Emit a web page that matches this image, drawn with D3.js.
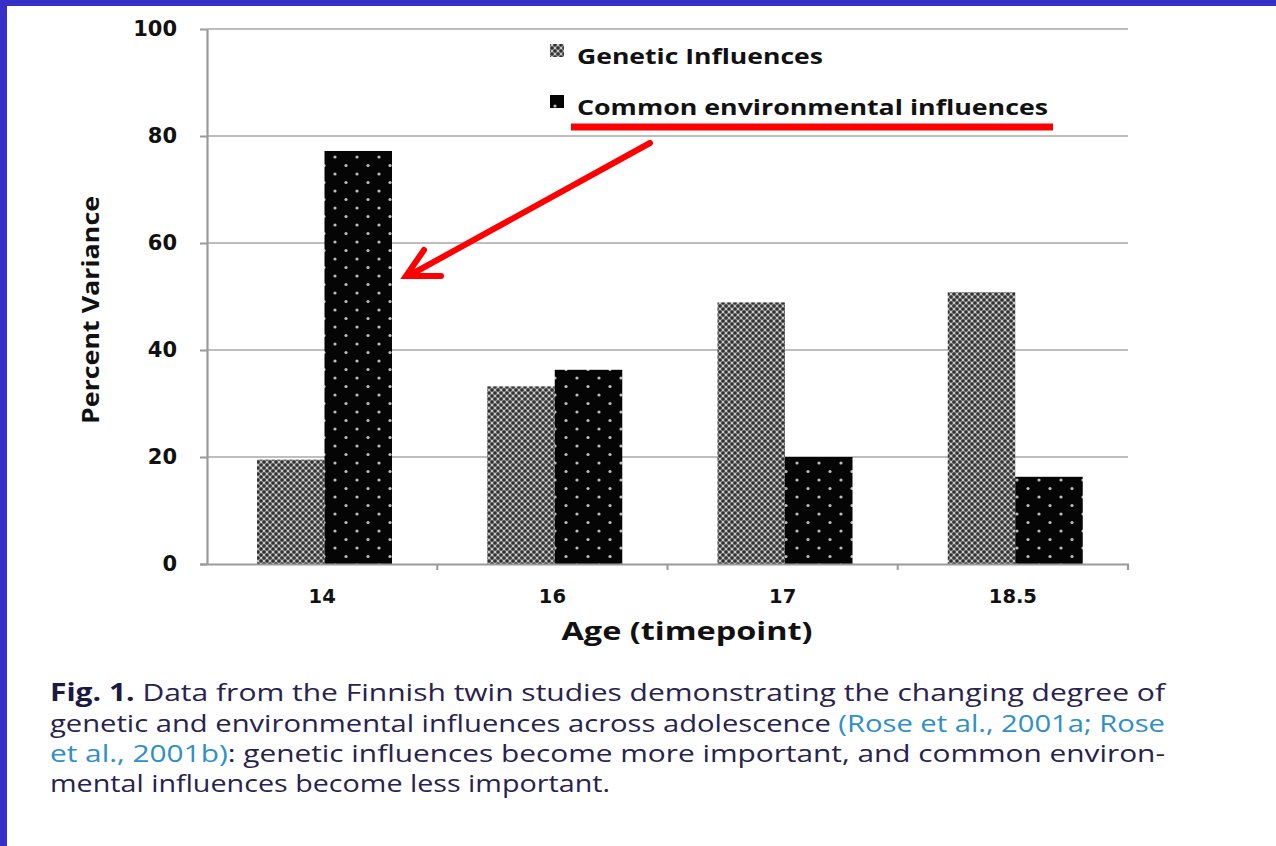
<!DOCTYPE html>
<html><head><meta charset="utf-8">
<script src="https://cdn.jsdelivr.net/npm/d3@7"></script>
<style>html,body{margin:0;padding:0;background:#fff;}svg{display:block;}</style>
</head><body>
<script>
const categories = ["14", "16", "17", "18.5"];
const seriesNames = ["Genetic Influences", "Common environmental influences"];
const genetic = [19.5, 33.2, 48.9, 50.8];
const common = [77.2, 36.3, 20.0, 16.3];
const yTicks = [0, 20, 40, 60, 80, 100];
const captionLines = [
  [["Fig. 1.", "b"], [" Data from the Finnish twin studies demonstrating the changing degree of", "n"]],
  [["genetic and environmental influences across adolescence ", "n"], ["(Rose et al., 2001a; Rose", "c"]],
  [["et al., 2001b)", "c"], [": genetic influences become more important, and common environ-", "n"]],
  [["mental influences become less important.", "n"]]
];

const W = 1276, H = 846;
const svg = d3.select("body").append("svg").attr("width", W).attr("height", H);
const defs = svg.append("defs");

// patterns
const pg = defs.append("pattern").attr("id", "genPat").attr("patternUnits", "userSpaceOnUse")
  .attr("width", 6).attr("height", 6);
pg.append("rect").attr("width", 6).attr("height", 6).attr("fill", "#a0a0a0");
[[0,0],[6,0],[0,6],[6,6],[3,3]].forEach(p => pg.append("circle").attr("cx", p[0]).attr("cy", p[1]).attr("r", 1.8).attr("fill", "#333"));
[[3,0],[0,3],[6,3],[3,6]].forEach(p => pg.append("circle").attr("cx", p[0]).attr("cy", p[1]).attr("r", 1.0).attr("fill", "#d4d4d4"));

const pc = defs.append("pattern").attr("id", "comPat").attr("patternUnits", "userSpaceOnUse")
  .attr("width", 22).attr("height", 17);
pc.append("rect").attr("width", 22).attr("height", 17).attr("fill", "#050505");
[[5,4],[16,12.5]].forEach(p => pc.append("circle").attr("cx", p[0]).attr("cy", p[1]).attr("r", 1.6).attr("fill", "#bdbdbd"));

// blue frame
svg.append("rect").attr("x", 0).attr("y", 0).attr("width", W).attr("height", 6).attr("fill", "#3530c6");
svg.append("rect").attr("x", 0).attr("y", 0).attr("width", 7).attr("height", H).attr("fill", "#3530c6");

const x0 = d3.scaleBand().domain(categories).range([207, 1128]).paddingInner(0).paddingOuter(0);
const x1 = d3.scaleBand().domain(seriesNames).range([50, 185]).paddingInner(0);
const y = d3.scaleLinear().domain([0, 100]).range([564, 29]);

// gridlines
svg.append("g").selectAll("line").data(yTicks.filter(d => d > 0)).join("line")
  .attr("x1", 207).attr("x2", 1128).attr("y1", d => y(d)).attr("y2", d => y(d))
  .attr("stroke", "#bdbdbd").attr("stroke-width", 2.2);

// bars
const vals = [genetic, common];
const fills = ["url(#genPat)", "url(#comPat)"];
seriesNames.forEach((s, si) => {
  svg.append("g").selectAll("rect").data(categories).join("rect")
    .attr("x", c => x0(c) + x1(s))
    .attr("width", x1.bandwidth())
    .attr("y", (c, i) => y(vals[si][i]))
    .attr("height", (c, i) => y(0) - y(vals[si][i]))
    .attr("fill", fills[si]);
});

// y axis
const yAxis = svg.append("g").attr("transform", "translate(207,0)")
  .call(d3.axisLeft(y).tickValues(yTicks).tickSize(7).tickSizeOuter(0).tickPadding(23));
yAxis.select(".domain").attr("stroke", "#9a9a9a").attr("stroke-width", 2.2);
yAxis.selectAll(".tick line").attr("stroke", "#9a9a9a").attr("stroke-width", 2);
yAxis.selectAll(".tick text").attr("font-family", "DejaVu Sans, sans-serif").attr("font-weight", 700)
  .attr("font-size", 21).attr("fill", "#111");

// x axis
const xAxis = svg.append("g").attr("transform", "translate(0,564)")
  .call(d3.axisBottom(x0).tickSize(0).tickPadding(25));
xAxis.select(".domain").attr("stroke", "#9a9a9a").attr("stroke-width", 2.2)
  .attr("d", "M200,0.5H1128V6");
xAxis.selectAll(".tick text").attr("font-family", "DejaVu Sans, sans-serif").attr("font-weight", 700)
  .attr("font-size", 19.5).attr("fill", "#111");
svg.append("g").selectAll("line").data(categories.slice(1)).join("line")
  .attr("x1", c => x0(c)).attr("x2", c => x0(c)).attr("y1", 564).attr("y2", 570)
  .attr("stroke", "#9a9a9a").attr("stroke-width", 2);

// axis titles
svg.append("text").attr("transform", "translate(99,310) rotate(-90)").attr("text-anchor", "middle")
  .attr("font-family", "Open Sans, sans-serif").attr("font-weight", 700).attr("font-size", 23)
  .attr("fill", "#111").attr("textLength", 228).attr("lengthAdjust", "spacingAndGlyphs").text("Percent Variance");
svg.append("text").attr("x", 687).attr("y", 640).attr("text-anchor", "middle")
  .attr("font-family", "Open Sans, sans-serif").attr("font-weight", 700).attr("font-size", 25)
  .attr("fill", "#111").attr("textLength", 251).attr("lengthAdjust", "spacingAndGlyphs").text("Age (timepoint)");

// legend
const legY = [50, 101];
const legW = [246, 471];
seriesNames.forEach((s, i) => {
  svg.append("rect").attr("x", 550).attr("y", legY[i] - 6).attr("width", 14).attr("height", 13).attr("fill", fills[i]);
  svg.append("text").attr("x", 577).attr("y", legY[i] + 14)
    .attr("font-family", "Open Sans, sans-serif").attr("font-weight", 700).attr("font-size", 22)
    .attr("fill", "#111").attr("textLength", legW[i]).attr("lengthAdjust", "spacingAndGlyphs").text(s);
});

// red underline and arrow
svg.append("line").attr("x1", 571).attr("x2", 1053).attr("y1", 127).attr("y2", 127)
  .attr("stroke", "#ff0000").attr("stroke-width", 7);
svg.append("line").attr("x1", 650).attr("y1", 143).attr("x2", 410).attr("y2", 275)
  .attr("stroke", "#ff0000").attr("stroke-width", 6).attr("stroke-linecap", "round");
svg.append("path").attr("d", "M424,250 L406,276 L441,276")
  .attr("fill", "none").attr("stroke", "#ff0000").attr("stroke-width", 6)
  .attr("stroke-linecap", "round").attr("stroke-linejoin", "miter");

// caption
const colors = { n: "#28224e", b: "#1c1a40", c: "#2f8fc8" };
const baselines = [701, 732, 762, 792];
const lineWidths = [1115, 1115, 1115, 560];
captionLines.forEach((line, li) => {
  const t = svg.append("text").attr("x", 50).attr("y", baselines[li])
    .attr("font-family", "Open Sans, sans-serif").attr("font-size", 24.5).attr("xml:space", "preserve")
    .attr("textLength", lineWidths[li]).attr("lengthAdjust", "spacingAndGlyphs");
  line.forEach(seg => {
    t.append("tspan").text(seg[0]).attr("fill", colors[seg[1]]).attr("font-weight", seg[1] === "b" ? 700 : 400);
  });
});
</script>
</body></html>
